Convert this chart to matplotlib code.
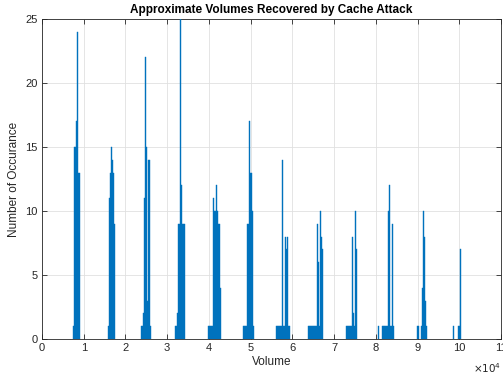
import matplotlib
matplotlib.use("Agg")
import matplotlib.pyplot as plt

plt.rcParams['font.family'] = ['Liberation Sans', 'DejaVu Sans']

bin_width = 240

# left edges of histogram bins (volume) and their counts
volumes = [
    7440, 7680, 7920, 8160, 8400, 8640, 8880,
    15840, 16080, 16320, 16560, 16800, 17040, 17280,
    23760, 24000, 24240, 24480, 24720, 24960, 25200, 25440, 25680, 25920,
    31920, 32160, 32400, 32640, 32880, 33120, 33360, 33600, 33840, 34080,
    39840, 40080, 40320, 40560, 40800, 41040, 41280, 41520, 41760, 42000, 42240, 42480, 42720,
    48240, 48480, 48720, 48960, 49200, 49440, 49680, 49920, 50160, 50400, 50640,
    56160, 56400, 56640, 56880, 57120, 57360, 57600, 57840, 58080, 58320, 58560, 58800, 59040, 59280,
    63840, 64080, 64320, 64560, 64800, 65040, 65280, 65520, 65760, 66000, 66240, 66480, 66720, 66960, 67200,
    72960, 73200, 73440, 73680, 73920, 74160, 74400, 74640, 74880, 75120, 75360,
    80640, 81600, 81840, 82080, 82320, 82560, 82800, 83040, 83280, 83520, 83760, 84000,
    89760, 90000, 90720, 90960, 91200, 91440, 91680, 91920,
    98400, 99600, 99840, 100080,
]
counts = [
    1, 15, 15, 17, 24, 13, 13,
    1, 11, 13, 15, 14, 13, 9,
    1, 1, 2, 11, 22, 15, 3, 14, 14, 1,
    1, 1, 2, 9, 9, 25, 12, 9, 9, 9,
    1, 1, 1, 1, 1, 11, 10, 10, 12, 10, 9, 9, 4,
    1, 1, 1, 1, 9, 9, 17, 13, 13, 10, 1,
    1, 1, 1, 1, 1, 1, 14, 1, 1, 8, 7, 8, 1, 1,
    1, 1, 1, 1, 1, 1, 1, 1, 1, 9, 6, 1, 10, 8, 7,
    1, 1, 1, 1, 1, 1, 8, 2, 1, 10, 7,
    1, 1, 1, 1, 1, 1, 10, 12, 1, 1, 9, 1,
    1, 1, 1, 4, 10, 8, 3, 1,
    1, 1, 1, 7,
]

x_ticks = list(range(0, 110001, 10000))
x_tick_labels = [str(i) for i in range(0, 12)]
y_ticks = [0, 5, 10, 15, 20, 25]

fig = plt.figure(figsize=(5.03, 3.79), dpi=100)
ax = fig.add_axes([42/503, 40/379, 459/503, 320/379])

ax.bar(volumes, counts, width=bin_width, align='edge', color='#0072BD',
       edgecolor='#0072BD', linewidth=0.3, zorder=3)

ax.set_xlim(0, 110000)
ax.set_ylim(0, 25)
ax.set_xticks(x_ticks)
ax.set_xticklabels(x_tick_labels)
ax.set_yticks(y_ticks)
ax.grid(True, color='#e0e0e0', linewidth=0.6, zorder=0)
ax.set_axisbelow(True)

for s in ax.spines.values():
    s.set_color('#262626')
    s.set_linewidth(0.6)
ax.tick_params(direction='in', length=3.5, width=0.6, colors='#262626',
               labelsize=8, top=True, right=True, pad=3)

ax.set_title('Approximate Volumes Recovered by Cache Attack', fontsize=8.5,
             fontweight='bold', color='black', pad=4)
ax.set_xlabel('Volume', fontsize=8.5, color='#262626', labelpad=2)
ax.set_ylabel('Number of Occurance', fontsize=8.5, color='#262626', labelpad=4)
ax.text(1.0, -0.07, r'$\times10^{4}$', transform=ax.transAxes, ha='right',
        va='top', fontsize=7.5, color='#262626')

fig.savefig('out.png', dpi=100)
